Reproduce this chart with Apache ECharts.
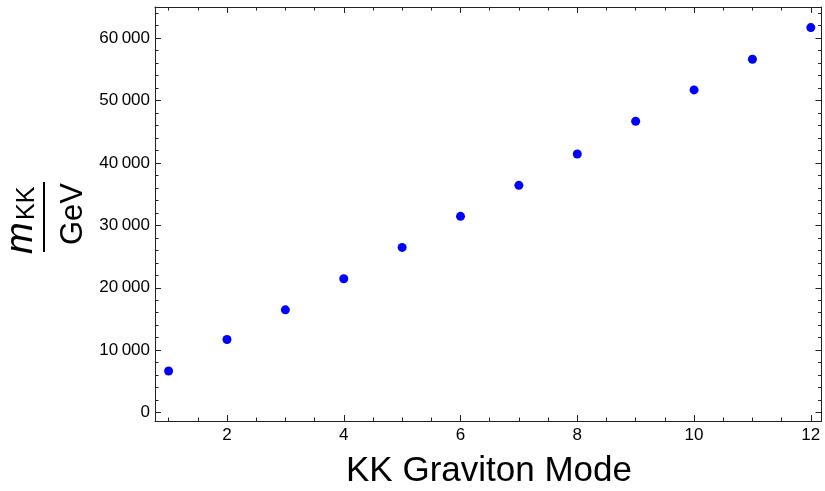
<!DOCTYPE html>
<html>
<head>
<meta charset="utf-8">
<script src="https://cdn.jsdelivr.net/npm/echarts@6/dist/echarts.min.js"></script>
<style>
html,body{margin:0;padding:0;background:#fff;}
#chart{width:825px;height:491px;}
</style>
</head>
<body>
<div id="chart"></div>
<script>
// ---- data ----
const modes = [1, 2, 3, 4, 5, 6, 7, 8, 9, 10, 11, 12];
const massGeV = [6670, 11710, 16460, 21440, 26470, 31450, 36420, 41440, 46690, 51710, 56630, 61700];
const xTicks = [2, 4, 6, 8, 10, 12];
const xMinorTicks = [1, 1.5, 2.5, 3, 3.5, 4.5, 5, 5.5, 6.5, 7, 7.5, 8.5, 9, 9.5, 10.5, 11, 11.5, 12];
const yTicks = [0, 10000, 20000, 30000, 40000, 50000, 60000];
const yMinorTicks = [2000, 4000, 6000, 8000, 12000, 14000, 16000, 18000, 22000, 24000, 26000, 28000,
  32000, 34000, 36000, 38000, 42000, 44000, 46000, 48000, 52000, 54000, 56000, 58000, 62000, 64000];
const xTitle = 'KK Graviton Mode';

const xMin = 0.767, xMax = 12.183, yMin = -1350, yMax = 65000;
const FONT = '"Liberation Sans", Arial, sans-serif';
const frameColor = '#222';

function fmt(v) {
  const s = String(Math.round(v));
  return s.length > 4 ? s.slice(0, -3) + '\u2009' + s.slice(-3) : s;
}

function xAx(pos, custom, len, labels, line) {
  return {
    type: 'value', position: pos, min: xMin, max: xMax,
    axisLine: { show: line, onZero: false, lineStyle: { color: frameColor, width: 1 } },
    axisTick: { show: true, inside: true, length: len, customValues: custom, lineStyle: { color: frameColor, width: 1 } },
    axisLabel: labels ? { show: true, customValues: xTicks, formatter: fmt, fontSize: 17, fontFamily: FONT, color: '#000', margin: 6 } : { show: false },
    splitLine: { show: false }
  };
}
function yAx(pos, custom, len, labels, line) {
  return {
    type: 'value', position: pos, min: yMin, max: yMax,
    axisLine: { show: line, onZero: false, lineStyle: { color: frameColor, width: 1 } },
    axisTick: { show: true, inside: true, length: len, customValues: custom, lineStyle: { color: frameColor, width: 1 } },
    axisLabel: labels ? { show: true, customValues: yTicks, formatter: fmt, fontSize: 17, fontFamily: FONT, color: '#000', margin: 5 } : { show: false },
    splitLine: { show: false }
  };
}

const chart = echarts.init(document.getElementById('chart'), null, { renderer: 'canvas' });
chart.setOption({
  animation: false,
  backgroundColor: '#fff',
  grid: { left: 155, top: 7, width: 666.5, height: 414, containLabel: false },
  xAxis: [
    xAx('bottom', xTicks, 6, true, true),
    xAx('bottom', xMinorTicks, 3.5, false, false),
    xAx('top', xTicks, 6, false, true),
    xAx('top', xMinorTicks, 3.5, false, false)
  ],
  yAxis: [
    yAx('left', yTicks, 6, true, true),
    yAx('left', yMinorTicks, 3.5, false, false),
    yAx('right', yTicks, 6, false, true),
    yAx('right', yMinorTicks, 3.5, false, false)
  ],
  series: [{
    type: 'scatter',
    xAxisIndex: 0, yAxisIndex: 0,
    symbol: 'circle', symbolSize: 9,
    itemStyle: { color: '#0000ff', opacity: 1 },
    data: modes.map((m, i) => [m, massGeV[i]])
  }],
  graphic: [
    {
      type: 'text', x: 489, y: 471,
      style: { text: xTitle, font: '35px ' + FONT, fill: '#000', align: 'center', verticalAlign: 'middle' }
    },
    {
      type: 'group', x: 44, y: 217, rotation: Math.PI / 2,
      children: [
        { type: 'line', shape: { x1: -35, y1: 0, x2: 35, y2: 0 }, style: { stroke: '#000', lineWidth: 2 } },
        { type: 'text', x: -37, y: -23, style: { text: 'm', font: 'italic 38px ' + FONT, fill: '#000', align: 'left', verticalAlign: 'middle' } },
        { type: 'text', x: -3, y: -17, style: { text: 'KK', font: '25px ' + FONT, fill: '#000', align: 'left', verticalAlign: 'middle' } },
        { type: 'text', x: 3, y: 29, style: { text: 'GeV', font: '31px ' + FONT, fill: '#000', align: 'center', verticalAlign: 'middle' } }
      ]
    }
  ]
});
</script>
</body>
</html>
